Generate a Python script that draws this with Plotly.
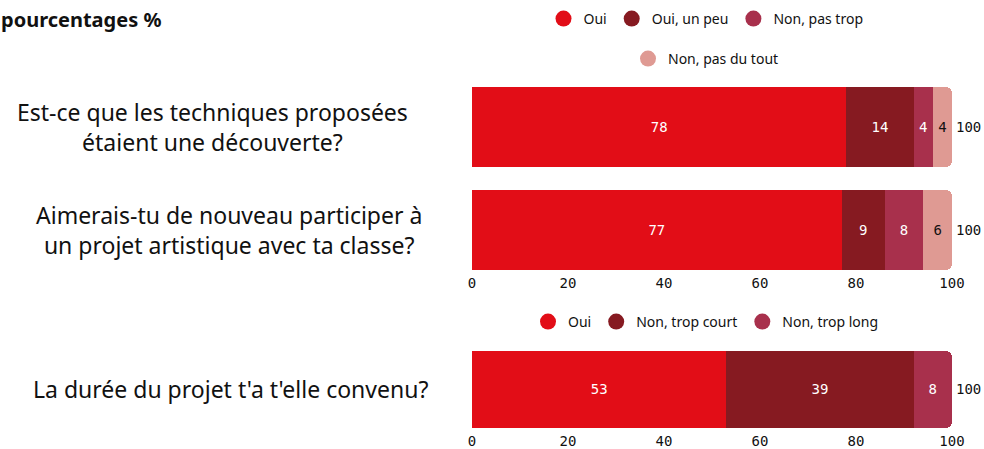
import plotly.graph_objects as go

# --- data -------------------------------------------------------------
questions_top = [
    "Est-ce que les techniques proposées<br>étaient une découverte?",
    "Aimerais-tu de nouveau participer à<br>un projet artistique avec ta classe?",
]
oui_top = [78, 77]
oui_un_peu = [14, 9]
non_pas_trop = [4, 8]
non_pas_du_tout = [4, 6]

questions_bottom = ["La durée du projet t'a t'elle convenu?"]
oui_bottom = [53]
non_trop_court = [39]
non_trop_long = [8]

x_ticks = [0, 20, 40, 60, 80, 100]

# --- styling ----------------------------------------------------------
RED = "#e20d17"
DARK = "#861a21"
PINK = "#a8304c"
LIGHT = "#df9a93"
TEXT = "#111111"
SANS = "Noto Sans"
MONO = "DejaVu Sans Mono"

W, H = 984, 449
L_MARGIN, R_MARGIN = 472, 32
PLOT_W = W - L_MARGIN - R_MARGIN


def px_x(px):
    return (px - L_MARGIN) / PLOT_W


def px_y(py):
    return 1 - py / H


fig = go.Figure()

top_series = [
    ("Oui", oui_top, RED, "white"),
    ("Oui, un peu", oui_un_peu, DARK, "white"),
    ("Non, pas trop", non_pas_trop, PINK, "white"),
    ("Non, pas du tout", non_pas_du_tout, LIGHT, TEXT),
]
bottom_series = [
    ("Oui", oui_bottom, RED, "white"),
    ("Non, trop court", non_trop_court, DARK, "white"),
    ("Non, trop long", non_trop_long, PINK, "white"),
]

for name, vals, color, tcolor in top_series:
    fig.add_trace(go.Bar(
        x=vals, y=questions_top, orientation="h", name=name,
        marker=dict(color=color, line=dict(width=0)),
        text=vals, texttemplate="%{x}", textposition="inside",
        insidetextanchor="middle", textangle=0,
        textfont=dict(family=MONO, size=14, color=tcolor),
        constraintext="none", showlegend=False,
        xaxis="x", yaxis="y",
    ))

for name, vals, color, tcolor in bottom_series:
    fig.add_trace(go.Bar(
        x=vals, y=questions_bottom, orientation="h", name=name,
        marker=dict(color=color, line=dict(width=0)),
        text=vals, texttemplate="%{x}", textposition="inside",
        insidetextanchor="middle", textangle=0,
        textfont=dict(family=MONO, size=14, color=tcolor),
        constraintext="none", showlegend=False,
        xaxis="x2", yaxis="y2",
    ))

# circular legend keys
legend_keys = [
    ("Oui", RED, "legend", "x", "y"),
    ("Oui, un peu", DARK, "legend", "x", "y"),
    ("Non, pas trop", PINK, "legend", "x", "y"),
    ("Non, pas du tout", LIGHT, "legend3", "x", "y"),
    ("Oui", RED, "legend2", "x2", "y2"),
    ("Non, trop court", DARK, "legend2", "x2", "y2"),
    ("Non, trop long", PINK, "legend2", "x2", "y2"),
]
for name, color, leg, xa, ya in legend_keys:
    fig.add_trace(go.Scatter(
        x=[None], y=[None], mode="markers", name=name,
        marker=dict(symbol="circle", size=16, color=color),
        legend=leg, xaxis=xa, yaxis=ya, hoverinfo="skip",
    ))

# totals to the right of each bar
annotations = []
for i, q in enumerate(questions_top):
    total = oui_top[i] + oui_un_peu[i] + non_pas_trop[i] + non_pas_du_tout[i]
    annotations.append(dict(
        x=total, y=i, xref="x", yref="y", text=str(total), showarrow=False,
        xanchor="left", xshift=2, font=dict(family=MONO, size=14, color=TEXT),
    ))
for i, q in enumerate(questions_bottom):
    total = oui_bottom[i] + non_trop_court[i] + non_trop_long[i]
    annotations.append(dict(
        x=total, y=i, xref="x2", yref="y2", text=str(total), showarrow=False,
        xanchor="left", xshift=2, font=dict(family=MONO, size=14, color=TEXT),
    ))

# question labels to the left of the bars
label_centers_top = [212, 229]
for i, q in enumerate(questions_top):
    annotations.append(dict(
        x=px_x(label_centers_top[i]), y=i, xref="paper", yref="y", text=q,
        showarrow=False, xanchor="center", align="center",
        font=dict(family=SANS, size=23, color=TEXT),
    ))
label_centers_bottom = [230]
for i, q in enumerate(questions_bottom):
    annotations.append(dict(
        x=px_x(label_centers_bottom[i]), y=i, xref="paper", yref="y2", text=q,
        showarrow=False, xanchor="center", align="center",
        font=dict(family=SANS, size=23, color=TEXT),
    ))

annotations.append(dict(
    x=px_x(-1), y=px_y(20), xref="paper", yref="paper",
    text="<b>pourcentages %</b>", showarrow=False, xanchor="left",
    yanchor="middle", font=dict(family=SANS, size=20, color=TEXT),
))

xaxis_style = dict(
    range=[0, 100], tickvals=x_ticks, showgrid=False, zeroline=False,
    showline=False, ticks="", tickfont=dict(family=MONO, size=14, color=TEXT),
    fixedrange=True,
)
legend_style = dict(
    orientation="h", xanchor="center", x=px_x(706), yanchor="middle",
    traceorder="normal",
    font=dict(family=SANS, size=14, color=TEXT), bgcolor="rgba(0,0,0,0)",
    itemclick=False, itemdoubleclick=False,
)

fig.update_layout(
    width=W, height=H,
    margin=dict(l=L_MARGIN, r=R_MARGIN, t=0, b=0),
    paper_bgcolor="white", plot_bgcolor="white",
    barmode="stack", bargap=0.223, barcornerradius=6,
    xaxis=dict(domain=[0, 1], anchor="y", **xaxis_style),
    xaxis2=dict(domain=[0, 1], anchor="y2", **xaxis_style),
    yaxis=dict(domain=[px_y(273), px_y(80)], range=[1.417, -0.456],
               showticklabels=False, showgrid=False, zeroline=False,
               anchor="x", fixedrange=True),
    yaxis2=dict(domain=[px_y(431), px_y(345)], range=[0.419, -0.449],
                showticklabels=False, showgrid=False, zeroline=False,
                anchor="x2", fixedrange=True),
    legend=dict(y=px_y(19), **legend_style),
    legend3=dict(y=px_y(59), **legend_style),
    legend2=dict(y=px_y(322), **legend_style),
    annotations=annotations,
    showlegend=True,
)

fig.write_html("out.html")
